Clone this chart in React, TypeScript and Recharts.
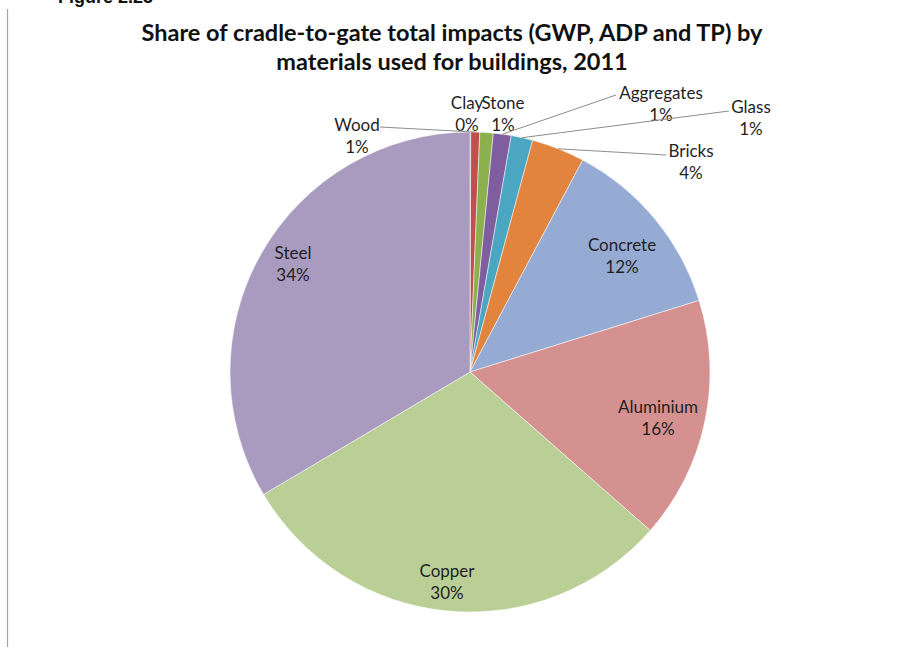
import { PieChart, Pie, Cell } from 'recharts';

const materials = ['Clay', 'Wood', 'Stone', 'Aggregates', 'Glass', 'Bricks', 'Concrete', 'Aluminium', 'Copper', 'Steel'];
const shares = [0.05, 0.6, 0.9, 1.2, 1.45, 3.58, 12.4, 16.3, 30.0, 33.52];
const sliceColors = ['#4F81BD', '#C0504D', '#8DB04F', '#7E5E9E', '#4BA6C2', '#E3843E', '#95ABD4', '#D49190', '#B9CF96', '#A99ABF'];

const titleLines = ['Share of cradle-to-gate total impacts (GWP, ADP and TP) by', 'materials used for buildings, 2011'];

const data = materials.map((name, i) => ({ name, value: shares[i] }));

// label block centre relative to the pie centre; lead = leader start relative to block centre
const labelSpots: Record<string, { dx: number; dy: number; lead?: [number, number] }> = {
  Clay: { dx: -3, dy: -258 },
  Wood: { dx: -113, dy: -236, lead: [23, -9] },
  Stone: { dx: 33, dy: -258 },
  Aggregates: { dx: 191, dy: -268, lead: [-45, -9] },
  Glass: { dx: 281, dy: -254, lead: [-22, -7] },
  Bricks: { dx: 221, dy: -210, lead: [-25, -7] },
  Concrete: { dx: 152, dy: -116 },
  Aluminium: { dx: 188, dy: 46 },
  Copper: { dx: -23, dy: 210 },
  Steel: { dx: -177, dy: -108 },
};

const RAD = Math.PI / 180;

function SliceLabel(props: any) {
  const { cx, cy, midAngle, outerRadius, name, percent } = props;
  const spot = labelSpots[name];
  if (!spot) return null;
  const x = cx + spot.dx;
  const y = cy + spot.dy;
  let leader = null;
  if (spot.lead) {
    const ex = cx + outerRadius * Math.cos(-midAngle * RAD);
    const ey = cy + outerRadius * Math.sin(-midAngle * RAD);
    leader = (
      <line x1={x + spot.lead[0]} y1={y + spot.lead[1]} x2={ex} y2={ey} stroke="#8c8c8c" strokeWidth={1} />
    );
  }
  return (
    <g>
      {leader}
      <text x={x} y={y} textAnchor="middle" fontFamily="Lato" fontSize={17} fill="#1f1f1f">
        <tspan x={x} y={y - 5}>{name}</tspan>
        <tspan x={x} y={y + 17}>{Math.round(percent * 100)}%</tspan>
      </text>
    </g>
  );
}

export default function App() {
  return (
    <div style={{ position: 'absolute', left: 0, top: 0, width: 906, height: 647, background: '#fff' }}>
      <svg width={906} height={647} style={{ position: 'absolute', left: 0, top: 0 }}>
        <text x={58} y={3} fontFamily="Liberation Sans" fontWeight="bold" fontSize={18} fill="#111">
          Figure 2.23
        </text>
        <line x1={7.5} y1={9} x2={7.5} y2={647} stroke="#a6a6a6" strokeWidth={1.2} />
        {titleLines.map((t, i) => (
          <text key={t} x={452} y={41 + i * 29} textAnchor="middle" fontFamily="Lato" fontWeight="bold" fontSize={23.5} fill="#111">
            {t}
          </text>
        ))}
      </svg>
      <div style={{ position: 'absolute', left: 0, top: 0 }}>
        <PieChart width={906} height={647}>
          <Pie
            data={data}
            dataKey="value"
            nameKey="name"
            cx={465}
            cy={367}
            outerRadius={240}
            startAngle={90}
            endAngle={-270}
            stroke="#ffffff"
            strokeWidth={0.5}
            label={SliceLabel}
            labelLine={false}
            isAnimationActive={false}
          >
            {data.map((d, i) => (
              <Cell key={d.name} fill={sliceColors[i]} />
            ))}
          </Pie>
        </PieChart>
      </div>
    </div>
  );
}
